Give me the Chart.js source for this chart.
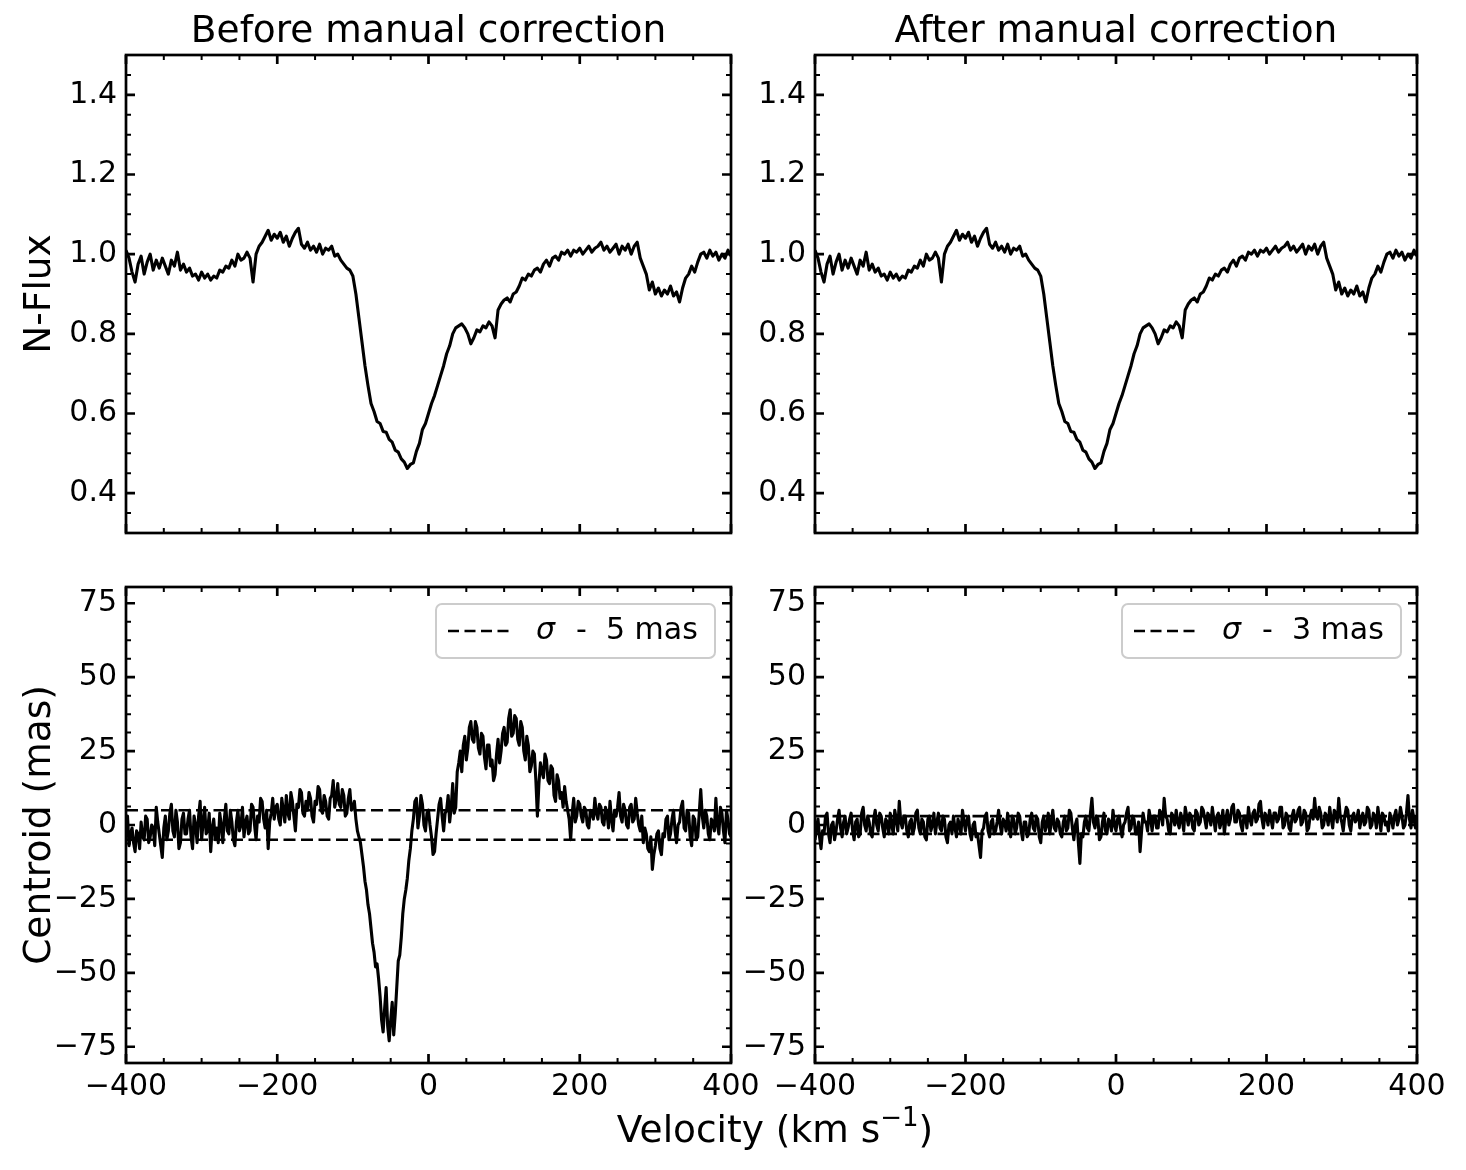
<!DOCTYPE html>
<html>
<head>
<meta charset="utf-8">
<script src="https://cdn.jsdelivr.net/npm/chart.js@4.4.1/dist/chart.umd.min.js"></script>
<style>
html,body{margin:0;padding:0;background:#fff;overflow:hidden;width:1466px;height:1170px;position:relative;}
canvas{position:absolute;}
#xlabel{position:absolute;left:375px;width:800px;top:1107px;text-align:center;font-family:'DejaVu Sans',sans-serif;font-size:37.5px;line-height:44px;color:#000;white-space:nowrap;z-index:5;}
#xlabel sup{font-size:26px;line-height:0;position:relative;top:-0.1em;}
</style>
</head>
<body>
<canvas id="tl" width="857" height="560" style="left:0px;top:0px"></canvas>
<canvas id="tr" width="854" height="560" style="left:689px;top:0px"></canvas>
<canvas id="bl" width="857" height="610" style="left:0px;top:560px"></canvas>
<canvas id="br" width="854" height="610" style="left:689px;top:560px"></canvas>
<div id="xlabel">Velocity (km s<sup>−1</sup>)</div>
<script>
// ---------------- data ----------------
// velocity grid of the flux spectrum (km/s)
const velocity = [
-400,-396,-392,-388,-384,-380,-376,-372,-368,-364,
-360,-356,-352,-348,-344,-340,-336,-332,-328,-324,
-320,-316,-312,-308,-304,-300,-296,-292,-288,-284,
-280,-276,-272,-268,-264,-260,-256,-252,-248,-244,
-240,-236,-232,-228,-224,-220,-216,-212,-208,-204,
-200,-196,-192,-188,-184,-180,-176,-172,-168,-164,
-160,-156,-152,-148,-144,-140,-136,-132,-128,-124,
-120,-116,-112,-108,-104,-100,-96,-92,-88,-84,
-80,-76,-72,-68,-64,-60,-56,-52,-48,-44,
-40,-36,-32,-28,-24,-20,-16,-12,-8,-4,
0,4,8,12,16,20,24,28,32,36,
40,44,48,52,56,60,64,68,72,76,
80,84,88,92,96,100,104,108,112,116,
120,124,128,132,136,140,144,148,152,156,
160,164,168,172,176,180,184,188,192,196,
200,204,208,212,216,220,224,228,232,236,
240,244,248,252,256,260,264,268,272,276,
280,284,288,292,296,300,304,308,312,316,
320,324,328,332,336,340,344,348,352,356,
360,364,368,372,376,380,384,388,392,396,
400];

const flux = [
1.01,0.99,0.955,0.93,0.975,0.995,0.95,0.98,1.0,0.96,
0.985,0.965,0.99,0.97,0.95,0.985,0.97,1.005,0.96,0.975,
0.955,0.965,0.945,0.95,0.935,0.955,0.94,0.95,0.935,0.945,
0.94,0.96,0.955,0.97,0.965,0.985,0.97,1.0,0.985,0.99,
1.005,0.99,0.93,1.0,1.02,1.03,1.045,1.06,1.035,1.05,
1.04,1.055,1.03,1.045,1.02,1.04,1.055,1.065,1.025,1.015,
1.03,1.01,1.02,1.005,1.025,1.0,1.015,1.01,1.02,0.995,
1.0,0.985,0.975,0.965,0.96,0.945,0.90,0.84,0.78,0.72,
0.67,0.625,0.605,0.58,0.575,0.555,0.553,0.535,0.528,0.508,
0.503,0.486,0.478,0.462,0.472,0.476,0.505,0.525,0.56,0.575,
0.60,0.625,0.645,0.67,0.695,0.72,0.75,0.77,0.80,0.815,
0.82,0.825,0.815,0.80,0.775,0.79,0.81,0.805,0.82,0.815,
0.83,0.82,0.79,0.86,0.875,0.885,0.89,0.88,0.90,0.905,
0.92,0.94,0.935,0.95,0.945,0.96,0.965,0.955,0.975,0.985,
0.97,0.99,0.995,0.985,1.005,1.0,1.01,0.995,1.01,1.005,
1.015,1.0,1.01,1.02,1.005,1.015,1.02,1.03,1.01,1.02,
1.005,1.015,1.025,1.0,1.02,1.01,1.025,1.0,1.02,1.03,
0.99,0.97,0.95,0.91,0.93,0.90,0.915,0.895,0.91,0.90,
0.92,0.895,0.905,0.88,0.915,0.94,0.95,0.97,0.955,0.98,
1.0,1.005,0.99,1.01,0.995,1.005,0.985,1.0,0.99,1.01,
0.995];

// finer velocity grid of the centroid measurements (km/s)
const velocityFine = [
-400,-398,-396,-394,-392,-390,-388,-386,-384,-382,-380,-378,-376,-374,-372,-370,-368,-366,-364,-362,
-360,-358,-356,-354,-352,-350,-348,-346,-344,-342,-340,-338,-336,-334,-332,-330,-328,-326,-324,-322,
-320,-318,-316,-314,-312,-310,-308,-306,-304,-302,-300,-298,-296,-294,-292,-290,-288,-286,-284,-282,
-280,-278,-276,-274,-272,-270,-268,-266,-264,-262,-260,-258,-256,-254,-252,-250,-248,-246,-244,-242,
-240,-238,-236,-234,-232,-230,-228,-226,-224,-222,-220,-218,-216,-214,-212,-210,-208,-206,-204,-202,
-200,-198,-196,-194,-192,-190,-188,-186,-184,-182,-180,-178,-176,-174,-172,-170,-168,-166,-164,-162,
-160,-158,-156,-154,-152,-150,-148,-146,-144,-142,-140,-138,-136,-134,-132,-130,-128,-126,-124,-122,
-120,-118,-116,-114,-112,-110,-108,-106,-104,-102,-100,-98,-96,-94,-92,-90,-88,-86,-84,-82,
-80,-78,-76,-74,-72,-70,-68,-66,-64,-62,-60,-58,-56,-54,-52,-50,-48,-46,-44,-42,
-40,-38,-36,-34,-32,-30,-28,-26,-24,-22,-20,-18,-16,-14,-12,-10,-8,-6,-4,-2,
0,2,4,6,8,10,12,14,16,18,20,22,24,26,28,30,32,34,36,38,
40,42,44,46,48,50,52,54,56,58,60,62,64,66,68,70,72,74,76,78,
80,82,84,86,88,90,92,94,96,98,100,102,104,106,108,110,112,114,116,118,
120,122,124,126,128,130,132,134,136,138,140,142,144,146,148,150,152,154,156,158,
160,162,164,166,168,170,172,174,176,178,180,182,184,186,188,190,192,194,196,198,
200,202,204,206,208,210,212,214,216,218,220,222,224,226,228,230,232,234,236,238,
240,242,244,246,248,250,252,254,256,258,260,262,264,266,268,270,272,274,276,278,
280,282,284,286,288,290,292,294,296,298,300,302,304,306,308,310,312,314,316,318,
320,322,324,326,328,330,332,334,336,338,340,342,344,346,348,350,352,354,356,358,
360,362,364,366,368,370,372,374,376,378,380,382,384,386,388,390,392,394,396,398,
400];

const centroidBefore = [
-2,3,-7,-3,-1,-6,-9,-2,-3,-8,1,-4,-5,3,2,-6,-4,0,-1,-7,
6,1,-3,-7,-11,-1,3,-5,-2,4,7,-2,-4,5,1,-8,-6,2,4,-3,
-3,2,5,-4,-8,3,0,-6,3,8,-5,1,6,-3,-2,4,-9,-1,2,-5,
-1,-6,4,0,-6,2,7,-2,-3,5,1,-5,-7,1,5,-2,0,6,-4,1,
3,-3,-2,7,6,0,-5,3,1,9,8,2,-1,5,-8,1,4,9,2,6,
7,2,0,9,5,1,10,4,2,11,8,3,-2,7,6,12,11,4,3,8,
5,11,9,3,1,8,7,13,12,5,4,10,8,3,2,9,10,15,6,9,
14,7,6,12,10,3,4,9,12,5,6,8,2,-2,-4,-6,-10,-14,-19,-22,
-27,-30,-35,-40,-43,-48,-47,-52,-58,-66,-70,-62,-55,-68,-73,-66,-60,-71,-64,-55,
-46,-44,-38,-30,-25,-22,-18,-12,-8,-2,2,8,9,-1,3,10,7,0,-2,4,
5,0,-4,-10,-9,-3,2,7,9,3,-2,4,5,10,1,6,14,4,6,18,
21,25,18,27,30,22,26,33,35,29,28,35,33,26,24,31,30,23,19,27,
27,20,22,15,17,24,29,21,25,31,33,27,28,36,39,30,31,37,36,29,
27,35,33,25,22,30,27,18,20,25,24,15,3,14,21,18,16,24,22,15,
14,20,19,10,8,17,15,9,11,6,13,8,5,2,-5,4,9,1,3,8,
7,3,1,6,5,0,-1,5,4,2,9,4,2,7,6,1,0,6,4,-1,
8,2,-2,5,3,6,11,3,1,7,5,0,-1,6,7,1,2,9,4,0,
-2,3,-6,-1,-3,-8,-9,-4,-15,-10,-7,-3,-2,-8,-10,-3,-4,2,3,-5,
-3,2,5,-2,-6,0,1,6,8,-1,-2,5,4,-4,-7,3,2,-5,-4,4,
12,3,-1,5,3,-3,-5,2,1,-2,9,0,-3,6,4,-2,-6,5,2,-3,
-4];

const centroidAfter = [
-5,-1,2,-4,-8,-2,-3,3,4,-3,-6,0,1,-5,-2,2,5,-1,-4,1,
3,-3,-1,2,4,-2,-5,1,2,-4,-3,4,6,0,-2,3,1,-3,-4,2,
5,0,-2,4,3,-1,-4,2,1,-3,4,0,-3,5,2,-2,8,1,-1,3,
3,-2,-4,1,2,-3,-1,4,5,-1,-3,2,1,-4,-5,2,3,-2,0,4,
-3,1,4,-1,-2,3,2,-4,-6,0,1,-3,3,-1,-4,2,0,-3,5,1,
-2,2,3,-3,-5,0,1,-4,-3,-7,-11,-2,-1,3,4,-2,-4,1,2,-3,
-2,1,5,0,-3,2,1,-2,4,-1,-4,3,2,-3,-1,4,3,-2,-5,1,
1,-4,-3,2,4,-1,-2,3,2,-4,-6,1,3,-2,0,4,-3,1,5,-1,
-2,2,1,-3,-4,1,3,-2,-1,5,4,-1,-5,0,2,-6,-13,-3,-4,1,
3,-1,-2,4,9,1,-1,3,2,-5,-4,1,4,-2,-3,2,1,-2,5,0,
-2,2,3,-1,-4,0,1,4,6,-2,-1,3,2,-3,-3,1,-9,-2,4,1,
1,-2,5,2,-2,3,3,-1,-1,5,4,0,9,3,2,-2,-3,4,3,0,
5,1,-1,4,2,-2,6,3,0,4,3,-1,-2,5,4,0,1,6,5,2,
-1,4,3,0,6,2,-2,3,4,-1,1,5,-3,2,5,0,2,6,7,1,
1,5,4,0,-2,3,3,-1,6,2,0,4,5,1,2,7,8,2,-1,4,
3,0,5,2,-1,4,4,1,2,6,6,-1,0,4,3,-1,-2,3,5,1,
2,5,6,0,1,5,4,-2,-1,3,5,2,9,3,2,6,4,-1,0,4,
3,0,6,2,-1,5,4,1,9,3,1,-2,3,6,5,0,-2,3,4,1,
2,5,-1,2,4,0,1,6,5,-1,0,4,3,-1,6,2,-2,4,3,0,
1,-2,4,2,-1,3,5,0,2,6,3,-1,0,4,10,2,-1,5,2,-1,
3];

const sigmaBefore = 5;
const sigmaAfter = 3;
const velocityTicks = [-400,-200,0,200,400];
const fluxTicks = [0.4,0.6,0.8,1.0,1.2,1.4];
const centroidTicks = [-75,-50,-25,0,25,50,75];
const panelTitles = ['Before manual correction','After manual correction'];
const yTitles = ['N-Flux','Centroid (mas)'];

// ---------------- rendering ----------------
Chart.defaults.font.family = "'DejaVu Sans', sans-serif";
Chart.defaults.color = '#000';

const fmtMinus = v => String(v).replace('-', '\u2212');

function minorVals(min, max, step, majors) {
  const out = [];
  const start = Math.ceil(min / step - 1e-9);
  for (let k = start; k * step <= max + 1e-9; k++) {
    const v = k * step;
    if (majors.some(m => Math.abs(m - v) < step * 1e-3)) continue;
    if (Math.abs(v - min) < 1e-9 || Math.abs(v - max) < 1e-9) continue;
    out.push(v);
  }
  return out;
}

const frameTicks = {
  id: 'frameTicks',
  afterDraw(chart, args, o) {
    const {ctx, chartArea: a, scales: {x, y}} = chart;
    ctx.save();
    ctx.strokeStyle = '#000';
    ctx.lineCap = 'butt';
    const drawX = (vals, len, w) => {
      ctx.lineWidth = w; ctx.beginPath();
      vals.forEach(v => { const p = x.getPixelForValue(v);
        ctx.moveTo(p, a.bottom); ctx.lineTo(p, a.bottom - len);
        ctx.moveTo(p, a.top); ctx.lineTo(p, a.top + len); });
      ctx.stroke();
    };
    const drawY = (vals, len, w) => {
      ctx.lineWidth = w; ctx.beginPath();
      vals.forEach(v => { const p = y.getPixelForValue(v);
        ctx.moveTo(a.left, p); ctx.lineTo(a.left + len, p);
        ctx.moveTo(a.right, p); ctx.lineTo(a.right - len, p); });
      ctx.stroke();
    };
    drawX(minorVals(x.min, x.max, o.xMinor, o.xMajor), 5, 2);
    drawY(minorVals(y.min, y.max, o.yMinor, o.yMajor), 5, 2);
    drawX(o.xMajor, 9, 2.7);
    drawY(o.yMajor, 9, 2.7);
    ctx.lineWidth = 2.7;
    ctx.strokeRect(a.left, a.top, a.right - a.left, a.bottom - a.top);
    ctx.restore();
  }
};

const sigmaLegend = {
  id: 'sigmaLegend',
  afterDraw(chart, args, o) {
    if (o.sigma === undefined) return;
    const {ctx, chartArea: a} = chart;
    const bw = 279, bh = 54;
    const bx = a.right - 16 - bw, by = a.top + 17;
    const cy = by + bh / 2;
    ctx.save();
    ctx.beginPath();
    ctx.roundRect(bx, by, bw, bh, 6);
    ctx.fillStyle = 'rgba(255,255,255,0.8)';
    ctx.fill();
    ctx.strokeStyle = '#cccccc';
    ctx.lineWidth = 2;
    ctx.stroke();
    ctx.beginPath();
    ctx.setLineDash([11, 5.5]);
    ctx.strokeStyle = '#000';
    ctx.lineWidth = 2.5;
    ctx.moveTo(bx + 12, cy); ctx.lineTo(bx + 74, cy);
    ctx.stroke();
    ctx.setLineDash([]);
    ctx.fillStyle = '#000';
    ctx.textBaseline = 'middle';
    ctx.textAlign = 'left';
    ctx.font = "italic 30px 'DejaVu Sans'";
    ctx.fillText('\u03C3', bx + 100, cy);
    ctx.font = "30px 'DejaVu Sans'";
    ctx.fillText('-  ' + o.sigma + ' mas', bx + 140, cy);
    ctx.restore();
  }
};

const pts = (xs, ys) => xs.map((v, i) => ({x: v, y: ys[i]}));
const hline = (xs, val) => [{x: xs[0], y: val}, {x: xs[xs.length - 1], y: val}];

function lineDs(xs, ys) {
  return {data: pts(xs, ys), borderColor: '#000', borderWidth: 3.1, pointRadius: 0,
          tension: 0, fill: false, borderJoinStyle: 'round', order: 1};
}
function dashDs(xs, val) {
  return {data: hline(xs, val), borderColor: '#000', borderWidth: 2.6, pointRadius: 0,
          borderDash: [12, 5.5], fill: false, order: 0};
}

function panel(id, c) {
  return new Chart(document.getElementById(id), {
    type: 'line',
    data: {datasets: c.datasets},
    options: {
      responsive: false, animation: false, devicePixelRatio: 1,
      layout: {padding: {top: c.padTop, left: 0, right: 0, bottom: 0}},
      plugins: {
        legend: {display: false},
        tooltip: {enabled: false},
        title: c.title ? {display: true, text: c.title, color: '#000',
          font: {size: 37.5, weight: 'normal'}, padding: {top: 10, bottom: 0}} : {display: false},
        frameTicks: {xMajor: velocityTicks, xMinor: 50, yMajor: c.yTicks, yMinor: c.yMinor},
        sigmaLegend: {sigma: c.sigma}
      },
      scales: {
        x: {
          type: 'linear', position: 'bottom', min: -400, max: 400,
          grid: {display: false, drawTicks: false}, border: {display: false},
          afterBuildTicks: s => { s.ticks = velocityTicks.map(v => ({value: v})); },
          ticks: {display: c.xLabels, font: {size: 30}, color: '#000', padding: 6,
                  maxRotation: 0, autoSkip: false, callback: v => fmtMinus(v)},
          afterFit: s => { s.height = c.xHeight; }
        },
        y: {
          type: 'linear', position: 'left', min: c.yMin, max: c.yMax,
          grid: {display: false, drawTicks: false}, border: {display: false},
          afterBuildTicks: s => { s.ticks = c.yTicks.map(v => ({value: v})); },
          ticks: {font: {size: 30}, color: '#000', padding: 9, autoSkip: false,
                  callback: c.yFmt},
          title: c.yTitle ? {display: true, text: c.yTitle, color: '#000',
                  font: {size: 37.5}, padding: {top: 18, bottom: 0}} : {display: false},
          afterFit: s => { s.width = 126; }
        },
        yr: {
          type: 'linear', position: 'right', display: true,
          grid: {display: false, drawTicks: false}, border: {display: false},
          ticks: {display: false},
          afterFit: s => { s.width = 126; }
        }
      }
    },
    plugins: [frameTicks, sigmaLegend]
  });
}

const fluxFmt = v => Number(v).toFixed(1);
const centFmt = v => fmtMinus(v);

panel('tl', {datasets: [lineDs(velocity, flux)], title: panelTitles[0], padTop: 0, xLabels: false, xHeight: 25,
  yMin: 0.3, yMax: 1.5, yTicks: fluxTicks, yMinor: 0.05, yFmt: fluxFmt, yTitle: yTitles[0]});
panel('tr', {datasets: [lineDs(velocity, flux)], title: panelTitles[1], padTop: 0, xLabels: false, xHeight: 25,
  yMin: 0.3, yMax: 1.5, yTicks: fluxTicks, yMinor: 0.05, yFmt: fluxFmt, yTitle: null});
panel('bl', {datasets: [lineDs(velocityFine, centroidBefore), dashDs(velocityFine, sigmaBefore), dashDs(velocityFine, -sigmaBefore)],
  title: null, padTop: 23, xLabels: true, xHeight: 107, sigma: sigmaBefore,
  yMin: -80.5, yMax: 80.5, yTicks: centroidTicks, yMinor: 6.25, yFmt: centFmt, yTitle: yTitles[1]});
panel('br', {datasets: [lineDs(velocityFine, centroidAfter), dashDs(velocityFine, sigmaAfter), dashDs(velocityFine, -sigmaAfter)],
  title: null, padTop: 23, xLabels: true, xHeight: 107, sigma: sigmaAfter,
  yMin: -80.5, yMax: 80.5, yTicks: centroidTicks, yMinor: 6.25, yFmt: centFmt, yTitle: null});
</script>
</body>
</html>
